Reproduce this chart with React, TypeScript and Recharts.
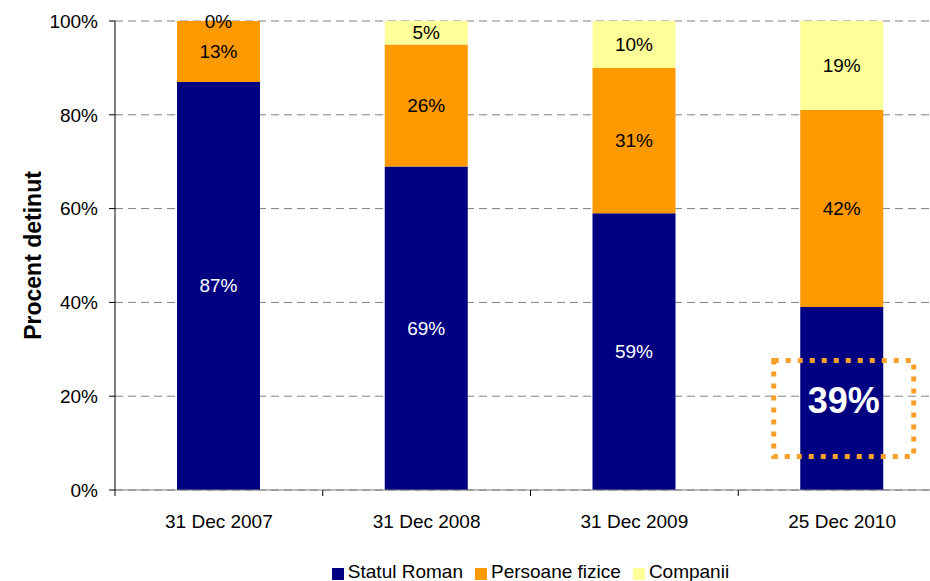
import { Bar, BarChart, CartesianGrid, LabelList, Legend, XAxis, YAxis } from "recharts";

const categories = ["31 Dec 2007", "31 Dec 2008", "31 Dec 2009", "25 Dec 2010"];
const statulRoman = [87, 69, 59, 39];
const persoaneFizice = [13, 26, 31, 42];
const companii = [0, 5, 10, 19];
const yTicks = [0, 20, 40, 60, 80, 100];
const seriesNames = ["Statul Roman", "Persoane fizice", "Companii"];

const NAVY = "#000080";
const ORANGE = "#FF9900";
const YELLOW = "#FFFF99";
const seriesColors = [NAVY, ORANGE, YELLOW];
const FONT = "'Liberation Sans', Arial, sans-serif";

const data = categories.map((name, i) => ({
  name,
  statul: statulRoman[i],
  persoane: persoaneFizice[i],
  companii: companii[i],
}));

const pct = (v: unknown) => `${v}%`;

// category tick: label under the center, tick marks on the band edges
function CategoryTick(props: any) {
  const { x, y, payload, index } = props;
  const half = payload?.offset ?? 0;
  return (
    <g>
      {index === 0 && half > 0 && (
        <line x1={x - half} x2={x - half} y1={y} y2={y + 6} stroke="#000" />
      )}
      {half > 0 && <line x1={x + half} x2={x + half} y1={y} y2={y + 6} stroke="#000" />}
      <text
        x={x}
        y={y + 31}
        textAnchor="middle"
        dominantBaseline="central"
        fontSize={19}
        fontFamily={FONT}
        fill="#000"
      >
        {payload.value}
      </text>
    </g>
  );
}

function plainLabel(x: number, y: number, value: unknown, color: string, key?: string) {
  return (
    <text
      key={key}
      x={x}
      y={y}
      textAnchor="middle"
      dominantBaseline="central"
      fontSize={19}
      fontFamily={FONT}
      fill={color}
    >
      {pct(value)}
    </text>
  );
}

function PersoaneLabel(props: any) {
  const { x, y, width, height, value, index } = props;
  const cx = x + width / 2;
  // a zero Companii segment has no bar, so its label sits on top of this one
  return (
    <g>
      {plainLabel(cx, y + height / 2, value, "#000")}
      {companii[index] === 0 && plainLabel(cx, y, companii[index], "#000")}
    </g>
  );
}

function CompaniiLabel(props: any) {
  const { x, y, width, height, value } = props;
  if (!value) return null;
  return plainLabel(x + width / 2, y + height / 2, value, "#000");
}

// the last state share is highlighted with a big number in a dotted frame
function StatulLabel(props: any) {
  const { x, y, width, height, value, index } = props;
  const cx = x + width / 2;
  const cy = y + height / 2;
  if (index !== statulRoman.length - 1) return plainLabel(cx, cy, value, "#fff");
  return (
    <g>
      <rect
        x={cx - 68}
        y={cy - 38}
        width={140}
        height={96}
        fill="none"
        stroke="#F9A02A"
        strokeWidth={5}
        strokeDasharray="5 7"
      />
      <text
        x={cx + 2}
        y={cy + 2}
        textAnchor="middle"
        dominantBaseline="central"
        fontSize={36}
        fontWeight="bold"
        fontFamily={FONT}
        fill="#fff"
      >
        {pct(value)}
      </text>
    </g>
  );
}

function LegendContent() {
  return (
    <div
      style={{
        height: 30,
        boxSizing: "border-box",
        paddingTop: 12,
        display: "flex",
        justifyContent: "center",
        fontSize: 19,
        lineHeight: "20px",
        fontFamily: FONT,
        color: "#000",
        whiteSpace: "nowrap",
      }}
    >
      {seriesNames.map((n, i) => (
        <div key={n} style={{ display: "flex", alignItems: "center", marginRight: i < seriesNames.length - 1 ? 12 : 0 }}>
          <span style={{ width: 12, height: 12, background: seriesColors[i], marginRight: 4, marginTop: 3 }} />
          <span>{n}</span>
        </div>
      ))}
    </div>
  );
}

export default function App() {
  return (
    <div
      style={{
        position: "absolute",
        left: 0,
        top: 0,
        width: 930,
        height: 581,
        overflow: "hidden",
        background: "#fff",
        fontFamily: FONT,
      }}
    >
      <BarChart
        width={960}
        height={581}
        data={data}
        margin={{ top: 21, right: 14, bottom: 0, left: 0 }}
        barSize={83}
      >
        <CartesianGrid horizontal vertical={false} stroke="#808080" strokeDasharray="8 5" />
        <XAxis
          dataKey="name"
          height={61}
          tickLine={false}
          tickSize={0}
          tickMargin={0}
          axisLine={{ stroke: "#808080" }}
          tick={<CategoryTick />}
          interval={0}
        />
        <YAxis
          width={115}
          domain={[0, 100]}
          ticks={yTicks}
          tickFormatter={pct}
          tickSize={6}
          tickMargin={11}
          tickLine={{ stroke: "#000" }}
          axisLine={{ stroke: "#000" }}
          tick={{ fontSize: 19, fill: "#000", fontFamily: FONT }}
          label={{
            value: "Procent detinut",
            angle: -90,
            position: "center",
            dx: -25,
            style: { fontSize: 23, fontWeight: "bold", fill: "#000", fontFamily: FONT },
          }}
        />
        <Legend
          verticalAlign="bottom"
          align="center"
          content={<LegendContent />}
          wrapperStyle={{ left: 115, width: 831, bottom: 0 }}
        />
        <Bar dataKey="statul" name="Statul Roman" stackId="a" fill={NAVY} isAnimationActive={false}>
          <LabelList dataKey="statul" content={<StatulLabel />} />
        </Bar>
        <Bar dataKey="persoane" name="Persoane fizice" stackId="a" fill={ORANGE} isAnimationActive={false}>
          <LabelList dataKey="persoane" content={<PersoaneLabel />} />
        </Bar>
        <Bar dataKey="companii" name="Companii" stackId="a" fill={YELLOW} isAnimationActive={false}>
          <LabelList dataKey="companii" content={<CompaniiLabel />} />
        </Bar>
      </BarChart>
    </div>
  );
}
